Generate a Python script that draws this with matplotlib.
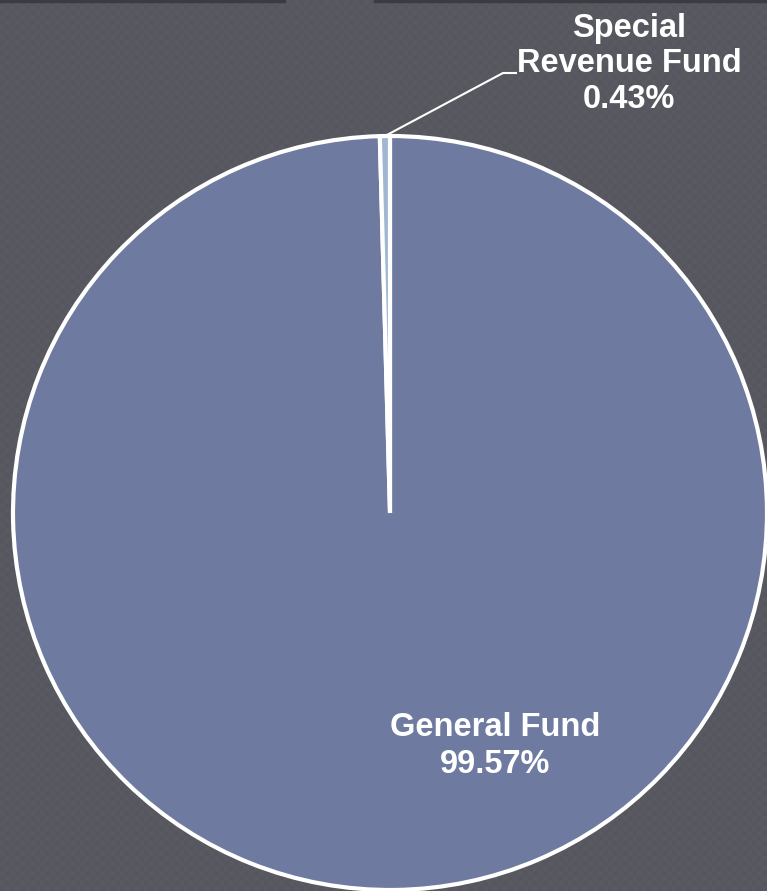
import numpy as np
import matplotlib.pyplot as plt

# data
funds = ['General Fund', 'Special Revenue Fund']
shares = [99.57, 0.43]
labels = ['General Fund\n99.57%', 'Special\nRevenue Fund\n0.43%']
colors = ['#6e7aa0', '#9fb8d0']

plt.rcParams['font.family'] = ['Liberation Sans', 'DejaVu Sans']

W, H = 767, 891
fig = plt.figure(figsize=(W / 100, H / 100), dpi=100)
fig.patch.set_facecolor('#57585f')
ax = fig.add_axes([0, 0, 1, 1])

# subtle checker texture in the background
yy, xx = np.indices((H // 5 + 1, W // 5 + 1))
checker = ((xx + yy) % 2).astype(float)
ax.imshow(checker, cmap=plt.matplotlib.colors.ListedColormap(['#56575e', '#595a61']),
          extent=(0, W, 0, H), origin='lower', interpolation='nearest', zorder=0)

cx, cy, r = 390, 378, 377
wedges, _ = ax.pie(shares, center=(cx, cy), radius=r, startangle=90, counterclock=False,
                   colors=colors, wedgeprops=dict(edgecolor='white', linewidth=3))
for w in wedges:
    w.set_zorder(2)

ax.set_xlim(0, W)
ax.set_ylim(0, H)
ax.set_aspect('equal')
ax.axis('off')

# labels
ax.text(495, 145, labels[0], ha='center', va='center', color='white',
        fontsize=23.5, fontweight='bold', linespacing=1.22, zorder=3)
ax.text(629, 827, labels[1], ha='center', va='center', color='white',
        fontsize=23.5, fontweight='bold', linespacing=1.2, zorder=3)

# leader line for the small slice
w = wedges[1]
mid = np.deg2rad((w.theta1 + w.theta2) / 2)
px, py = cx + r * np.cos(mid), cy + r * np.sin(mid)
ax.plot([px, 503, 517], [py, 818, 818], color='white', lw=1.5, zorder=3,
        solid_capstyle='butt')

# thin dark strips along the top edge
ax.plot([0, 284], [H - 0.5, H - 0.5], color='#3b3c41', lw=2.5, zorder=4, clip_on=False)
ax.plot([375, W], [H - 0.5, H - 0.5], color='#3b3c41', lw=2.5, zorder=4, clip_on=False)

fig.savefig('out.png', dpi=100, facecolor=fig.get_facecolor())
